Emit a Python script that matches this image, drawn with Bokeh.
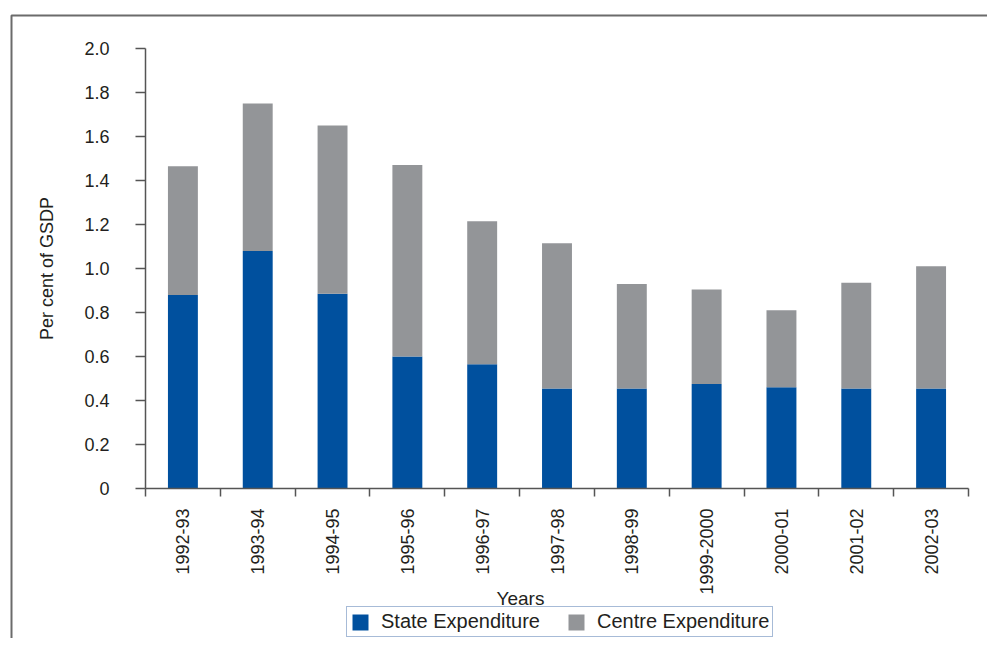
import math
from bokeh.plotting import figure
from bokeh.models import (Range1d, FixedTicker, NumeralTickFormatter, Legend, LegendItem,
                          Label, BoxAnnotation, ColumnDataSource)
from bokeh.embed import file_html
from bokeh.resources import INLINE

# ---- data ----
years = ["1992-93", "1993-94", "1994-95", "1995-96", "1996-97", "1997-98",
         "1998-99", "1999-2000", "2000-01", "2001-02", "2002-03"]
state = [0.88, 1.08, 0.885, 0.60, 0.565, 0.455, 0.455, 0.475, 0.46, 0.455, 0.455]
centre = [0.585, 0.67, 0.765, 0.87, 0.65, 0.66, 0.475, 0.43, 0.35, 0.48, 0.555]
y_ticks = [0, 0.2, 0.4, 0.6, 0.8, 1.0, 1.2, 1.4, 1.6, 1.8, 2.0]
series_names = ["State Expenditure", "Centre Expenditure"]

BLUE = "#00509e"
GRAY = "#939598"
AXIS = "#555555"
TEXT = "#231f20"
FONT = "Liberation Sans"

# ---- layout (pixels) ----
W, H = 987, 638
PLOT_L, PLOT_R, PLOT_T, PLOT_B = 145, 968, 48, 488   # where the axes sit on the canvas
Y_MAX = y_ticks[-1]
n = len(years)
xu = (PLOT_R - PLOT_L) / n          # px per category
yu = (PLOT_B - PLOT_T) / Y_MAX      # px per unit

centers = [i + 0.5 for i in range(n)]
bounds = [i for i in range(n + 1)]

src = ColumnDataSource(dict(x=centers, state=state, centre=centre))

p = figure(width=W, height=H, output_backend="svg", toolbar_location=None,
           x_range=Range1d(-PLOT_L / xu, n + (W - PLOT_R) / xu),
           y_range=Range1d(-(H - PLOT_B) / yu, Y_MAX + PLOT_T / yu),
           min_border=0)

renderers = p.vbar_stack(["state", "centre"], x="x", width=0.4, color=[BLUE, GRAY],
                         line_color=None, source=src)

p.outline_line_color = None
p.xgrid.visible = False
p.ygrid.visible = False
p.background_fill_color = "white"
p.border_fill_color = "white"

# y axis
ya = p.yaxis[0]
ya.fixed_location = 0
ya.bounds = (0, Y_MAX)
ya.ticker = FixedTicker(ticks=y_ticks)
ya.formatter = NumeralTickFormatter(format="0.0")
ya.major_label_overrides = {0: "0"}
ya.axis_line_color = AXIS
ya.axis_line_width = 1.5
ya.major_tick_line_color = AXIS
ya.major_tick_line_width = 1.5
ya.major_tick_out = 10
ya.major_tick_in = 0
ya.minor_tick_line_color = None
ya.major_label_standoff = 26
ya.major_label_text_font = FONT
ya.major_label_text_font_size = "18px"
ya.major_label_text_color = TEXT
ya.axis_label = "Per cent of GSDP"
ya.axis_label_text_font = FONT
ya.axis_label_text_font_size = "18px"
ya.axis_label_text_font_style = "normal"
ya.axis_label_text_color = TEXT
ya.axis_label_standoff = 24

# x axis
xa = p.xaxis[0]
xa.fixed_location = 0
xa.bounds = (0, n)
xa.ticker = FixedTicker(ticks=centers, minor_ticks=bounds)
xa.major_label_overrides = {c: y for c, y in zip(centers, years)}
xa.major_label_orientation = math.pi / 2
xa.axis_line_color = AXIS
xa.axis_line_width = 1.5
xa.major_tick_out = 0
xa.major_tick_in = 0
xa.major_tick_line_color = None
xa.minor_tick_line_color = AXIS
xa.minor_tick_line_width = 1.5
xa.minor_tick_out = 8
xa.minor_tick_in = 0
xa.major_label_standoff = 12
xa.major_label_text_font = FONT
xa.major_label_text_font_size = "18px"
xa.major_label_text_color = TEXT

# x axis title
p.add_layout(Label(x=520, y=H - 598, x_units="screen", y_units="screen", text="Years",
                   text_align="center", text_baseline="alphabetic",
                   text_font=FONT, text_font_size="19px", text_color=TEXT))

# legend
legend = Legend(items=[LegendItem(label=series_names[0], renderers=[renderers[0]]),
                       LegendItem(label=series_names[1], renderers=[renderers[1]])],
                orientation="horizontal", location=(346, 1))
legend.border_line_color = "#4f78b0"
legend.border_line_width = 1
legend.background_fill_color = "white"
legend.background_fill_alpha = 1
legend.glyph_width = 20
legend.glyph_height = 20
legend.label_standoff = 11
legend.spacing = 26
legend.padding = 3
legend.margin = 0
legend.label_text_font = FONT
legend.label_text_font_size = "20px"
legend.label_text_color = TEXT
p.add_layout(legend)

# outer frame of the figure
p.add_layout(BoxAnnotation(left=11, right=W + 200, top=H - 15, bottom=-300,
                           left_units="screen", right_units="screen",
                           top_units="screen", bottom_units="screen",
                           fill_color=None, fill_alpha=0,
                           line_color="#6b6b6b", line_alpha=1.0, line_width=2))

open("out.html", "w").write(file_html(p, INLINE))
